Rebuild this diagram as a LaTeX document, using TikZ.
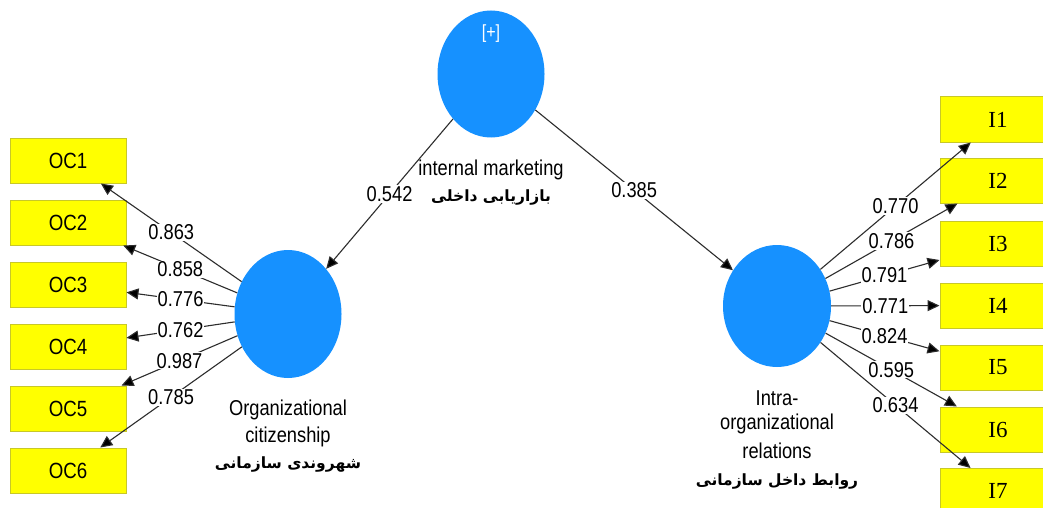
\documentclass[tikz,border=0pt]{standalone}
\usepackage{fontspec}
\usetikzlibrary{shapes.geometric,arrows.meta}
\setmainfont{Liberation Sans}[FakeStretch=0.85]
\newfontfamily\boxserif{Liberation Serif}
\newfontfamily\fa[Script=Arabic]{DejaVu Sans}
\TeXXeTstate=1
\definecolor{lvblue}{RGB}{22,145,255}
\definecolor{indyellow}{RGB}{255,255,0}
\definecolor{indborder}{RGB}{200,200,40}
\definecolor{pathgray}{RGB}{45,45,45}
\tikzset{
  latent/.style={ellipse, fill=lvblue, draw=none, inner sep=0pt},
  indicator/.style={rectangle, fill=indyellow, draw=indborder, line width=1pt,
    minimum width=116pt, minimum height=45pt, inner sep=0pt,
    font=\fontsize{22}{26}\selectfont},
  arr/.style={draw=pathgray, line width=1.1pt,
    -{Triangle[length=12pt,width=11pt,fill=black]}},
  lbl/.style={fill=white, inner sep=1pt, text=black, font=\fontsize{21.5}{25}\selectfont},
  caption/.style={inner sep=0pt, font=\fontsize{21.5}{25}\selectfont},
  facaption/.style={inner sep=0pt, font=\fontsize{15.5}{19}\fa\bfseries},
}
\begin{document}
\begin{tikzpicture}[x=1pt, y=-1pt]
\useasboundingbox (0,0) rectangle (1043,508);
\fill[white] (0,0) rectangle (1043,508);

% latent variables
\node[latent, minimum width=107pt, minimum height=127pt] (im) at (491,74) {};
\node[text=white, font=\fontsize{19}{22}\selectfont, inner sep=0pt] (implus) at (491,34) {[+]};
\node[latent, minimum width=107pt, minimum height=128pt] (oc) at (288,314) {};
\node[latent, minimum width=108pt, minimum height=122pt] (ir) at (777,306) {};

% indicators of organizational citizenship
\foreach \i/\y in {1/160.5,2/222.5,3/284.5,4/346.5,5/408.5,6/470.5}
  \node[indicator] (oc\i) at (68,\y) {OC\i};

% indicators of intra-organizational relations
\foreach \i/\y in {1/119.5,2/180.5,3/243.5,4/305.5,5/367.5,6/429.5,7/491}
  \node[indicator, font=\fontsize{23}{27}\boxserif] (ir\i) at (998,\y) {I\i};

% structural paths
\draw[arr] (im) -- node[lbl] {0.542} (oc);
\draw[arr] (im) -- node[lbl] {0.385} (ir);

% outer loadings
\draw[arr] (oc) -- node[lbl] {0.863} (oc1);
\draw[arr] (oc) -- node[lbl] {0.858} (oc2);
\draw[arr] (oc) -- node[lbl] {0.776} (oc3);
\draw[arr] (oc) -- node[lbl] {0.762} (oc4);
\draw[arr] (oc) -- node[lbl] {0.987} (oc5);
\draw[arr] (oc) -- node[lbl] {0.785} (oc6);

\draw[arr] (ir) -- node[lbl] {0.770} (ir1);
\draw[arr] (ir) -- node[lbl] {0.786} (ir2);
\draw[arr] (ir) -- node[lbl] {0.791} (ir3);
\draw[arr] (ir) -- node[lbl] {0.771} (ir4);
\draw[arr] (ir) -- node[lbl] {0.824} (ir5);
\draw[arr] (ir) -- node[lbl] {0.595} (ir6);
\draw[arr] (ir) -- node[lbl] {0.634} (ir7);

% captions
\node[caption] (imen) at (491,170) {internal marketing};
\node[facaption] (imfa) at (491,198) {\beginR بازاریابی داخلی\endR};

\node[caption] (ocen1) at (288,410) {Organizational};
\node[caption] (ocen2) at (288,437) {citizenship};
\node[facaption] (ocfa) at (288,465) {\beginR شهروندی سازمانی\endR};

\node[caption] (iren1) at (777,398) {Intra-};
\node[caption] (iren2) at (777,424) {organizational};
\node[caption] (iren3) at (777,451) {relations};
\node[facaption] (irfa) at (777,481) {\beginR روابط داخل سازمانی\endR};
\end{tikzpicture}
\end{document}
